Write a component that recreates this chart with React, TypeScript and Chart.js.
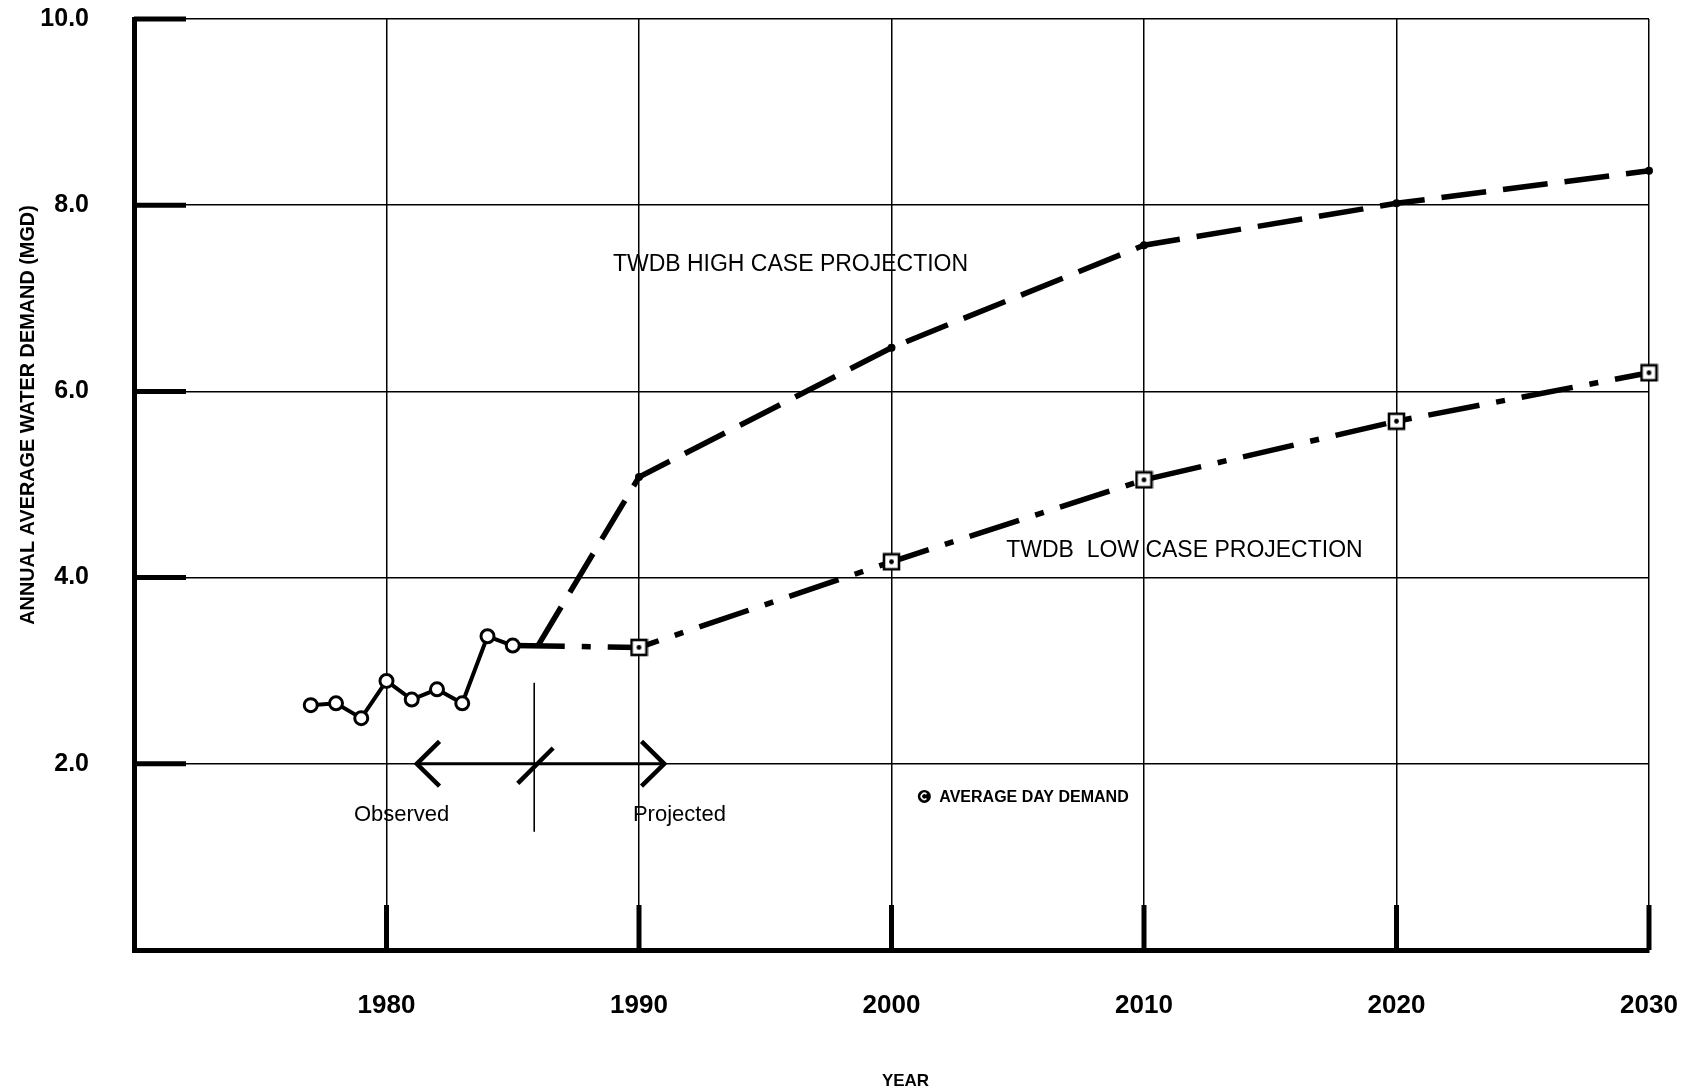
import React, { useEffect, useRef } from 'react';
import { Chart, registerables } from 'chart.js';

Chart.register(...registerables);

// ---- data ----
const observedYears = [1977, 1978, 1979, 1980, 1981, 1982, 1983, 1984, 1985];
const observedValues = [2.63, 2.65, 2.49, 2.89, 2.69, 2.8, 2.65, 3.37, 3.27];

const highCaseYears = [1986, 1990, 2000, 2010, 2020, 2030];
const highCaseValues = [3.27, 5.08, 6.47, 7.57, 8.02, 8.37];

const lowCaseYears = [1985, 1990, 2000, 2010, 2020, 2030];
const lowCaseValues = [3.27, 3.25, 4.17, 5.05, 5.68, 6.2];

const xTickYears = [1980, 1990, 2000, 2010, 2020, 2030];
const yTickValues = [2, 4, 6, 8, 10];

const yAxisTitle = 'ANNUAL AVERAGE WATER DEMAND (MGD)';
const xAxisTitle = 'YEAR';

// text notes placed in data coordinates
const noteTexts = ['TWDB HIGH CASE PROJECTION', 'TWDB  LOW CASE PROJECTION', 'Observed', 'Projected'];
const noteYears = [1996.0, 2011.6, 1980.6, 1991.6];
const noteValues = [7.36, 4.29, 1.45, 1.45];

const legendText = 'AVERAGE DAY DEMAND';
const legendYear = 2001.3;
const legendValue = 1.65;

// observed / projected arrow (data coordinates)
const arrowStartYear = 1981.2;
const arrowEndYear = 1991.0;
const arrowValue = 2.0;
const dividerYear = 1985.85;
const dividerFrom = 1.27;
const dividerTo = 2.87;
const slashYears = [1985.2, 1986.6];
const slashValues = [1.79, 2.17];

const FONT = "'Liberation Sans', Arial, Helvetica, sans-serif";

function makeSquareMarker(): HTMLCanvasElement {
  const c = document.createElement('canvas');
  c.width = 19;
  c.height = 19;
  const g = c.getContext('2d')!;
  g.fillStyle = '#fff';
  g.fillRect(2, 2, 15, 15);
  g.strokeStyle = '#000';
  g.lineWidth = 2.6;
  g.strokeRect(2, 2, 15, 15);
  g.fillStyle = '#000';
  g.beginPath();
  g.arc(9.5, 9.5, 2.4, 0, Math.PI * 2);
  g.fill();
  return c;
}

const gridDecorPlugin = {
  id: 'gridDecor',
  beforeDatasetsDraw(chart: any) {
    const { ctx, chartArea } = chart;
    const x = chart.scales.x;
    const y = chart.scales.y;
    ctx.save();
    ctx.strokeStyle = '#000';
    ctx.lineCap = 'butt';
    ctx.lineWidth = 5;
    yTickValues.forEach((v) => {
      const py = y.getPixelForValue(v);
      ctx.beginPath();
      ctx.moveTo(chartArea.left, py);
      ctx.lineTo(chartArea.left + 52, py);
      ctx.stroke();
    });
    xTickYears.forEach((v) => {
      const px = x.getPixelForValue(v);
      ctx.beginPath();
      ctx.moveTo(px, chartArea.bottom);
      ctx.lineTo(px, chartArea.bottom - 45);
      ctx.stroke();
    });

    // observed / projected arrow
    const ay = y.getPixelForValue(arrowValue);
    const ax0 = x.getPixelForValue(arrowStartYear);
    const ax1 = x.getPixelForValue(arrowEndYear);
    ctx.lineWidth = 3;
    ctx.beginPath();
    ctx.moveTo(ax0, ay);
    ctx.lineTo(ax1, ay);
    ctx.stroke();
    ctx.lineWidth = 4.5;
    ctx.lineJoin = 'miter';
    const armX = x.getPixelForValue(arrowStartYear + 0.9) - ax0;
    const armY = y.getPixelForValue(arrowValue - 0.24) - ay;
    ctx.beginPath();
    ctx.moveTo(ax0 + armX, ay - armY);
    ctx.lineTo(ax0, ay);
    ctx.lineTo(ax0 + armX, ay + armY);
    ctx.stroke();
    ctx.beginPath();
    ctx.moveTo(ax1 - armX, ay - armY);
    ctx.lineTo(ax1, ay);
    ctx.lineTo(ax1 - armX, ay + armY);
    ctx.stroke();
    // slash
    ctx.beginPath();
    ctx.moveTo(x.getPixelForValue(slashYears[0]), y.getPixelForValue(slashValues[0]));
    ctx.lineTo(x.getPixelForValue(slashYears[1]), y.getPixelForValue(slashValues[1]));
    ctx.stroke();
    // divider
    ctx.lineWidth = 1.6;
    const dx = x.getPixelForValue(dividerYear);
    ctx.beginPath();
    ctx.moveTo(dx, y.getPixelForValue(dividerTo));
    ctx.lineTo(dx, y.getPixelForValue(dividerFrom));
    ctx.stroke();
    ctx.restore();
  },
  afterDraw(chart: any) {
    const { ctx, chartArea } = chart;
    const x = chart.scales.x;
    const y = chart.scales.y;
    ctx.save();
    ctx.fillStyle = '#000';
    ctx.textBaseline = 'middle';
    ctx.textAlign = 'center';

    noteTexts.forEach((t, i) => {
      const small = t === 'Observed' || t === 'Projected';
      ctx.font = `${small ? 22 : 23}px ${FONT}`;
      ctx.fillText(t, x.getPixelForValue(noteYears[i]), y.getPixelForValue(noteValues[i]));
    });

    // legend marker + text
    const lx = x.getPixelForValue(legendYear);
    const ly = y.getPixelForValue(legendValue);
    ctx.beginPath();
    ctx.arc(lx, ly, 6.5, 0, Math.PI * 2);
    ctx.fill();
    ctx.strokeStyle = '#fff';
    ctx.lineWidth = 1.6;
    ctx.beginPath();
    ctx.arc(lx, ly, 3, Math.PI * 0.25, Math.PI * 1.75);
    ctx.stroke();
    ctx.textAlign = 'left';
    ctx.font = `bold 16px ${FONT}`;
    ctx.fillText(legendText, lx + 15, ly + 1);

    // axis titles
    ctx.textAlign = 'center';
    ctx.font = `bold 17px ${FONT}`;
    ctx.fillText(xAxisTitle, (chartArea.left + chartArea.right) / 2 + 14, chartArea.bottom + 131);

    ctx.font = `bold 17px ${FONT}`;
    const w = ctx.measureText(yAxisTitle).width;
    const size = (17 * 420) / w;
    ctx.font = `bold ${size.toFixed(2)}px ${FONT}`;
    ctx.translate(29, 415);
    ctx.rotate(-Math.PI / 2);
    ctx.fillText(yAxisTitle, 0, 0);
    ctx.restore();
  },
};

export default function App() {
  const canvasRef = useRef<HTMLCanvasElement | null>(null);

  useEffect(() => {
    const canvas = canvasRef.current;
    if (!canvas) return;
    const square = makeSquareMarker();
    const chart = new Chart(canvas, {
      type: 'line',
      data: {
        datasets: [
          {
            label: 'Observed',
            data: observedYears.map((yr, i) => ({ x: yr, y: observedValues[i] })),
            borderColor: '#000',
            borderWidth: 4,
            pointStyle: 'circle',
            pointRadius: 6.5,
            pointBorderWidth: 3,
            pointBackgroundColor: '#fff',
            pointBorderColor: '#000',
            tension: 0,
            clip: false,
            order: 1,
          },
          {
            label: 'TWDB High Case Projection',
            data: highCaseYears.map((yr, i) => ({ x: yr, y: highCaseValues[i] })),
            borderColor: '#000',
            borderWidth: 5.5,
            borderDash: [45, 17],
            borderCapStyle: 'butt',
            pointStyle: 'circle',
            pointRadius: (c: any) => (c.dataIndex === 0 ? 0 : 4),
            pointBorderWidth: 0,
            pointBackgroundColor: '#000',
            tension: 0,
            clip: false,
            order: 3,
          },
          {
            label: 'TWDB Low Case Projection',
            data: lowCaseYears.map((yr, i) => ({ x: yr, y: lowCaseValues[i] })),
            borderColor: '#000',
            borderWidth: 5.5,
            borderDash: [52, 17, 9, 17],
            borderCapStyle: 'butt',
            pointStyle: square as any,
            pointRadius: (c: any) => (c.dataIndex === 0 ? 0 : 8),
            tension: 0,
            clip: false,
            order: 2,
          },
        ],
      },
      options: {
        responsive: false,
        animation: false,
        events: [],
        layout: { padding: { left: 0, top: 19, right: 46, bottom: 0 } },
        plugins: {
          legend: { display: false },
          tooltip: { enabled: false },
          title: { display: false },
        },
        scales: {
          x: {
            type: 'linear',
            min: 1970,
            max: 2030,
            afterBuildTicks: (s: any) => {
              s.ticks = xTickYears.map((v) => ({ value: v }));
            },
            afterFit: (s: any) => {
              s.height = 142;
              s.paddingLeft = 0;
              s.paddingRight = 0;
            },
            grid: { color: '#000', lineWidth: 1.5, drawTicks: false },
            border: { display: true, color: '#000', width: 5 },
            ticks: {
              color: '#000',
              font: { family: FONT, size: 26, weight: 'bold' },
              padding: 40,
              maxRotation: 0,
              autoSkip: false,
              callback: (v: any) => String(v),
            },
          },
          y: {
            type: 'linear',
            min: 0,
            max: 10,
            afterBuildTicks: (s: any) => {
              s.ticks = yTickValues.map((v) => ({ value: v }));
            },
            afterFit: (s: any) => {
              s.width = 134;
              s.paddingTop = 0;
              s.paddingBottom = 0;
            },
            grid: { color: '#000', lineWidth: 1.5, drawTicks: false },
            border: { display: true, color: '#000', width: 5 },
            ticks: {
              color: '#000',
              font: { family: FONT, size: 25, weight: 'bold' },
              padding: 45,
              autoSkip: false,
              callback: (v: any) => Number(v).toFixed(1),
            },
          },
        },
      },
      plugins: [gridDecorPlugin],
    } as any);
    return () => chart.destroy();
  }, []);

  return (
    <div style={{ position: 'absolute', left: 0, top: 0, width: 1695, height: 1092, background: '#fff' }}>
      <canvas ref={canvasRef} width={1695} height={1092} style={{ width: 1695, height: 1092, display: 'block' }} />
    </div>
  );
}
